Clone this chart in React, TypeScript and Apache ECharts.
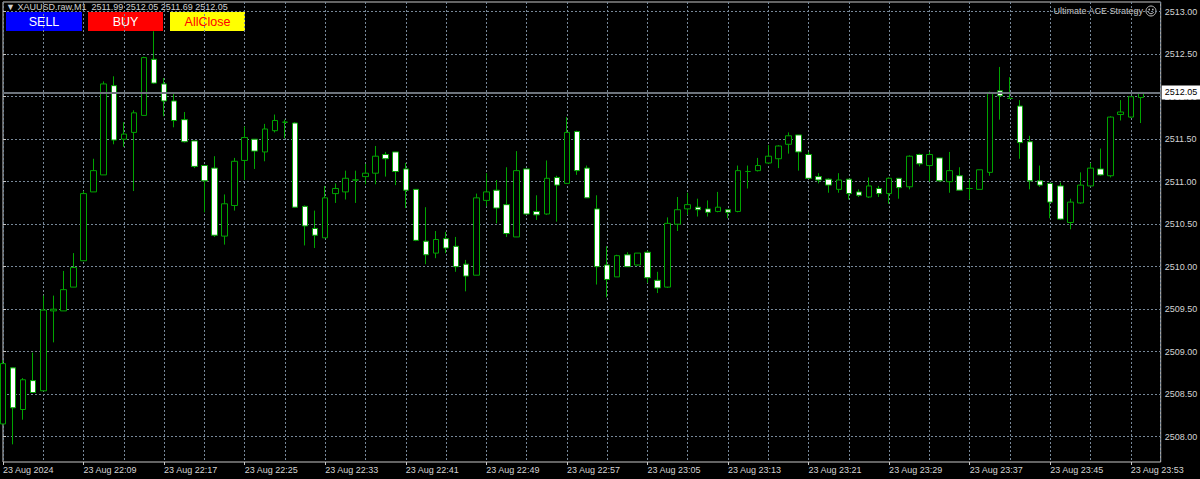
import React, { useEffect, useRef } from "react";
import * as echarts from "echarts";

// Minute candles from 23 Aug 22:01 to 23:54 (index = minutes after 22:01)
const opens = [2508.15,2508.81,2508.32,2508.66,2508.54,2509.48,2509.48,2509.76,2510.07,2510.88,
2511.08,2512.13,2511.50,2511.58,2511.78,2512.44,2512.15,2511.95,2511.73,2511.48,
2511.19,2511.16,2510.36,2510.72,2511.25,2511.50,2511.35,2511.60,2511.70,2511.69,
2510.71,2510.45,2510.34,2510.86,2510.88,2511.02,2511.06,2511.10,2511.32,2511.35,
2511.15,2510.91,2510.30,2510.16,2510.33,2510.24,2510.03,2509.90,2510.78,2510.90,
2510.73,2510.35,2511.15,2510.65,2510.62,2511.05,2510.98,2511.59,2511.16,2510.68,
2510.02,2509.88,2510.14,2510.02,2510.17,2509.84,2509.76,2510.50,2510.68,2510.70,
2510.68,2510.65,2510.67,2510.65,2511.12,2511.13,2511.22,2511.27,2511.44,2511.55,
2511.32,2511.06,2511.03,2510.91,2511.03,2510.88,2510.82,2510.92,2510.86,2511.04,
2510.94,2511.32,2511.19,2511.28,2511.00,2511.07,2510.92,2510.91,2511.11,2512.07,
2511.98,2511.89,2511.47,2511.01,2510.98,2510.95,2510.52,2510.75,2510.95,2511.15,
2511.07,2511.79,2511.76,2511.99];

const highs = [2508.90,2508.82,2508.69,2508.99,2509.66,2509.66,2509.95,2510.16,2510.89,2511.27,
2512.18,2512.24,2511.70,2511.84,2512.47,2512.77,2512.22,2512.03,2511.82,2511.48,
2511.19,2511.30,2510.85,2511.28,2511.65,2511.50,2511.68,2511.79,2511.73,2511.70,
2510.72,2510.66,2510.95,2510.98,2511.13,2511.13,2511.21,2511.42,2511.35,2511.35,
2511.22,2510.91,2510.70,2510.42,2510.41,2510.35,2510.08,2510.86,2511.10,2511.02,
2511.17,2511.36,2511.15,2510.84,2511.25,2511.07,2511.76,2511.60,2511.19,2510.84,
2510.24,2510.14,2510.17,2510.16,2510.19,2509.94,2510.58,2510.82,2510.87,2510.80,
2510.78,2510.88,2510.67,2511.19,2511.19,2511.28,2511.43,2511.43,2511.58,2511.55,
2511.35,2511.10,2511.04,2511.10,2511.03,2510.91,2511.05,2510.95,2511.05,2511.04,
2511.31,2511.33,2511.35,2511.28,2511.35,2511.17,2511.03,2511.14,2512.06,2512.35,
2512.23,2511.96,2511.54,2511.19,2510.98,2510.99,2510.80,2511.11,2511.22,2511.39,
2511.77,2511.96,2512.00,2512.05];

const lows = [2508.15,2507.91,2508.20,2508.52,2508.54,2509.11,2509.48,2509.76,2510.07,2510.88,
2511.08,2511.44,2511.41,2510.89,2511.78,2512.15,2511.77,2511.64,2511.46,2511.16,
2510.64,2510.35,2510.26,2510.66,2511.02,2511.15,2511.24,2511.58,2511.51,2510.70,
2510.25,2510.22,2510.34,2510.75,2510.79,2510.75,2510.97,2510.97,2511.06,2510.96,
2510.69,2510.30,2510.03,2510.10,2510.16,2509.94,2509.71,2509.90,2510.71,2510.51,
2510.35,2510.35,2510.61,2510.55,2510.61,2510.53,2510.98,2511.08,2510.81,2509.79,
2509.64,2509.88,2510.00,2510.01,2509.81,2509.69,2509.75,2510.42,2510.61,2510.59,
2510.59,2510.64,2510.57,2510.64,2510.92,2511.12,2511.21,2511.16,2511.33,2511.13,
2511.03,2510.98,2510.87,2510.87,2510.79,2510.82,2510.81,2510.82,2510.74,2510.80,
2510.91,2511.18,2511.00,2511.00,2510.87,2510.90,2510.79,2510.91,2511.07,2511.73,
2511.98,2511.27,2510.91,2510.94,2510.57,2510.55,2510.44,2510.74,2510.95,2511.07,
2511.05,2511.72,2511.75,2511.69];

const closes = [2508.86,2508.34,2508.67,2508.52,2509.49,2509.50,2509.73,2509.99,2510.86,2511.13,
2512.15,2511.49,2511.56,2511.81,2512.46,2512.16,2511.95,2511.72,2511.47,2511.18,
2511.01,2510.37,2510.74,2511.24,2511.52,2511.36,2511.62,2511.72,2511.70,2510.70,
2510.48,2510.37,2510.81,2510.92,2511.04,2511.02,2511.10,2511.30,2511.27,2511.12,
2510.90,2510.31,2510.14,2510.32,2510.22,2510.00,2509.89,2510.81,2510.88,2510.69,
2510.39,2511.13,2510.62,2510.61,2511.04,2510.96,2511.58,2511.13,2510.81,2510.00,
2509.85,2510.13,2510.00,2510.16,2509.87,2509.75,2510.51,2510.67,2510.73,2510.67,
2510.64,2510.70,2510.64,2511.13,2511.12,2511.19,2511.30,2511.42,2511.54,2511.35,
2511.04,2511.02,2510.96,2511.02,2510.86,2510.84,2510.95,2510.86,2511.04,2510.93,
2511.30,2511.21,2511.32,2511.01,2511.13,2510.90,2510.92,2511.14,2512.05,2512.01,
2511.98,2511.46,2511.01,2510.96,2510.76,2510.56,2510.76,2510.96,2511.16,2511.08,
2511.76,2511.82,2512.00,2512.05];

// time-axis labels, one every 8 minutes starting at 22:01
const timeLabels = [
  "23 Aug 2024", "23 Aug 22:09", "23 Aug 22:17", "23 Aug 22:25", "23 Aug 22:33",
  "23 Aug 22:41", "23 Aug 22:49", "23 Aug 22:57", "23 Aug 23:05", "23 Aug 23:13",
  "23 Aug 23:21", "23 Aug 23:29", "23 Aug 23:37", "23 Aug 23:45", "23 Aug 23:53",
];
const labelStep = 8;

const priceTicks = [2508.0, 2508.5, 2509.0, 2509.5, 2510.0, 2510.5, 2511.0, 2511.5, 2512.0, 2512.5, 2513.0];
const lastPrice = 2512.05;
const headerText = "\u25BC XAUUSD.raw,M1  2511.99 2512.05 2511.69 2512.05";

const FONT = '"Liberation Sans", Arial, sans-serif';
const GREEN = "#00a400";
const GRID = "#778899";
const AXIS = "#c8c8c8";

export default function App() {
  const ref = useRef<HTMLDivElement>(null);

  useEffect(() => {
    document.body.style.margin = "0";
    document.body.style.background = "#000";
    if (!ref.current) return;
    const chart = echarts.init(ref.current, undefined, { renderer: "svg" });

    const data = opens.map((o, i) => [i, o, closes[i], lows[i], highs[i]]);
    const tickMinutes = timeLabels.map((_, i) => i * labelStep);

    const option: any = {
      animation: false,
      backgroundColor: "#000000",
      textStyle: { fontFamily: FONT },
      grid: {
        left: 3,
        top: 2,
        right: 39.3,
        bottom: 17,
        show: true,
        borderColor: AXIS,
        borderWidth: 1,
        backgroundColor: "transparent",
        containLabel: false,
        outerBoundsMode: "none",
      },
      xAxis: [
        {
          type: "value",
          min: 0,
          max: 114.97,
          position: "bottom",
          axisLine: { show: false },
          splitLine: { show: false },
          axisTick: { show: true, length: 3, customValues: tickMinutes, lineStyle: { color: AXIS } },
          axisLabel: {
            customValues: tickMinutes,
            formatter: (v: number) => timeLabels[Math.round(v / labelStep)] ?? "",
            color: "#d4d4d4",
            fontSize: 9,
            fontFamily: FONT,
            align: "left",
            margin: 3,
          },
        },
        {
          type: "value",
          min: 0,
          max: 114.97,
          interval: 4,
          position: "top",
          axisLine: { show: false },
          axisTick: { show: false },
          axisLabel: { show: false },
          splitLine: { show: true, lineStyle: { color: GRID, type: [2, 2], width: 1 } },
        },
      ],
      yAxis: {
        type: "value",
        position: "right",
        min: 2507.7024,
        max: 2513.114,
        axisLine: { show: false },
        axisTick: { show: true, length: 3, customValues: priceTicks, lineStyle: { color: AXIS } },
        axisLabel: {
          customValues: priceTicks,
          formatter: (v: number) => v.toFixed(2),
          color: "#d4d4d4",
          fontSize: 9,
          fontFamily: FONT,
          margin: 4,
        },
        splitLine: { show: true, lineStyle: { color: GRID, type: [2, 2], width: 1 } },
      },
      series: [
        {
          type: "candlestick",
          xAxisIndex: 0,
          yAxisIndex: 0,
          barWidth: 6,
          data,
          itemStyle: {
            color: "#000000",
            color0: "#ffffff",
            borderColor: GREEN,
            borderColor0: GREEN,
            borderWidth: 1,
          },
          markLine: {
            silent: true,
            symbol: ["none", "none"],
            lineStyle: { color: "#6d747c", type: "solid", width: 2 },
            label: {
              show: true,
              position: "end",
              distance: 1,
              formatter: () => lastPrice.toFixed(2),
              backgroundColor: "#ffffff",
              color: "#000000",
              fontSize: 9,
              fontFamily: FONT,
              padding: [3, 4, 2, 3],
            },
            data: [{ yAxis: lastPrice }],
          },
        },
      ],
      graphic: [
        {
          type: "text",
          x: 6,
          y: 7,
          style: { text: headerText, fill: "#d0d0d0", font: `9px ${FONT}`, align: "left", verticalAlign: "middle" },
        },
        { type: "rect", shape: { x: 6, y: 12, width: 76, height: 19 }, style: { fill: "#0000ff" } },
        {
          type: "text",
          x: 44,
          y: 21.5,
          style: { text: "SELL", fill: "#ffffff", font: `12.5px ${FONT}`, align: "center", verticalAlign: "middle" },
        },
        { type: "rect", shape: { x: 88, y: 12, width: 75, height: 19 }, style: { fill: "#ff0000" } },
        {
          type: "text",
          x: 125.5,
          y: 21.5,
          style: { text: "BUY", fill: "#ffffff", font: `12.5px ${FONT}`, align: "center", verticalAlign: "middle" },
        },
        { type: "rect", shape: { x: 170, y: 12, width: 75, height: 19 }, style: { fill: "#ffff00" } },
        {
          type: "text",
          x: 207.5,
          y: 21.5,
          style: { text: "AllClose", fill: "#ff0000", font: `12.5px ${FONT}`, align: "center", verticalAlign: "middle" },
        },
        {
          type: "text",
          x: 1143,
          y: 11,
          style: { text: "Ultimate ACE Strategy", fill: "#c8c8c8", font: `9px ${FONT}`, align: "right", verticalAlign: "middle" },
        },
        { type: "circle", shape: { cx: 1151, cy: 11, r: 5 }, style: { fill: "none", stroke: "#c0c0c0", lineWidth: 1 } },
        { type: "circle", shape: { cx: 1149.2, cy: 9.5, r: 0.8 }, style: { fill: "#c0c0c0" } },
        { type: "circle", shape: { cx: 1152.8, cy: 9.5, r: 0.8 }, style: { fill: "#c0c0c0" } },
        {
          type: "arc",
          shape: { cx: 1151, cy: 11, r: 2.8, startAngle: 0.4, endAngle: Math.PI - 0.4 },
          style: { stroke: "#c0c0c0", fill: "none", lineWidth: 1 },
        },
      ],
    };

    chart.setOption(option);
    return () => chart.dispose();
  }, []);

  return <div ref={ref} style={{ width: 1200, height: 479, background: "#000" }} />;
}
